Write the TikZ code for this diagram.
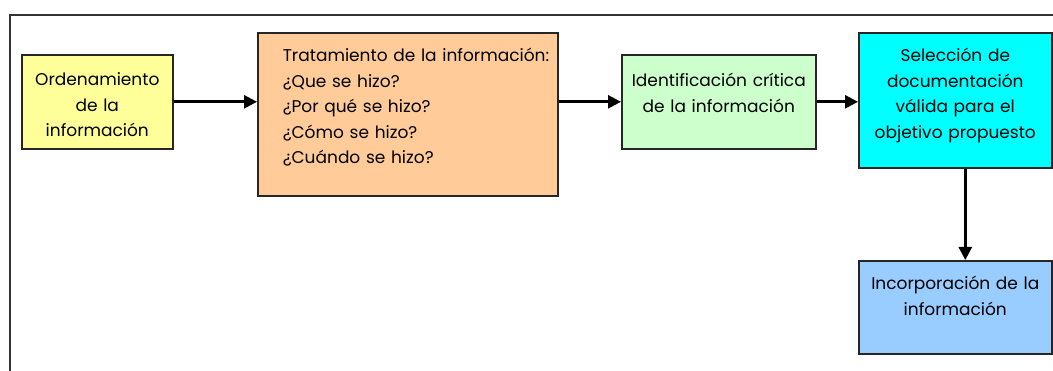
\documentclass[tikz,border=0pt]{standalone}
\usepackage{fontspec}
\setmainfont{Poppins}
\usetikzlibrary{arrows.meta}
\definecolor{ordenfill}{HTML}{FFFF99}
\definecolor{tratafill}{HTML}{FFCC99}
\definecolor{identfill}{HTML}{CCFFCC}
\definecolor{selecfill}{HTML}{00FFFF}
\definecolor{incorpfill}{HTML}{99CCFF}
\begin{document}
\begin{tikzpicture}[x=1pt,y=-1pt,
    caja/.style={draw=black!85, line width=1.6pt, anchor=north west, align=center,
      font=\fontsize{17}{25.5}\selectfont, text height=12pt, inner xsep=0pt},
    flecha/.style={line width=2.6pt, -{Triangle[length=13pt,width=13pt]}}]
  \useasboundingbox (0,0) rectangle (1053,371);
  \draw[line width=1.6pt, black!80] (10,371) -- (10,15) -- (1053,15);
  \draw
    (21,54) node[caja, fill=ordenfill, text width=151pt, inner ysep=19pt, text depth=44pt] (orden)
      {Ordenamiento\\ de la\\ información}
    (257,32) node[caja, fill=tratafill, align=left, text width=250pt, inner xsep=25pt, inner ysep=17pt, text depth=117pt] (trata)
      {\mbox{Tratamiento de la información:}\\ ¿Que se hizo?\\ ¿Por qué se hizo?\\ ¿Cómo se hizo?\\ ¿Cuándo se hizo?}
    (621,54) node[caja, fill=identfill, text width=194pt, inner ysep=20pt, text depth=42pt] (ident)
      {Identificación crítica\\ de la información}
    (858,32) node[caja, fill=selecfill, text width=193pt, inner ysep=17pt, text depth=89pt] (selec)
      {Selección de\\ documentación\\ válida para el\\ objetivo propuesto}
    (858,260) node[caja, fill=incorpfill, text width=193pt, inner ysep=17pt, text depth=47pt] (incorp)
      {Incorporación de la\\ información};
  \begin{scope}[flecha]
    \draw (orden.east) to (orden.east -| trata.west);
    \draw (ident.west -| trata.east) to (ident.west);
    \draw (ident.east) to (ident.east -| selec.west);
    \draw ([xshift=10pt]selec.south) to ([xshift=10pt]selec.south |- incorp.north);
  \end{scope}
\end{tikzpicture}
\end{document}
